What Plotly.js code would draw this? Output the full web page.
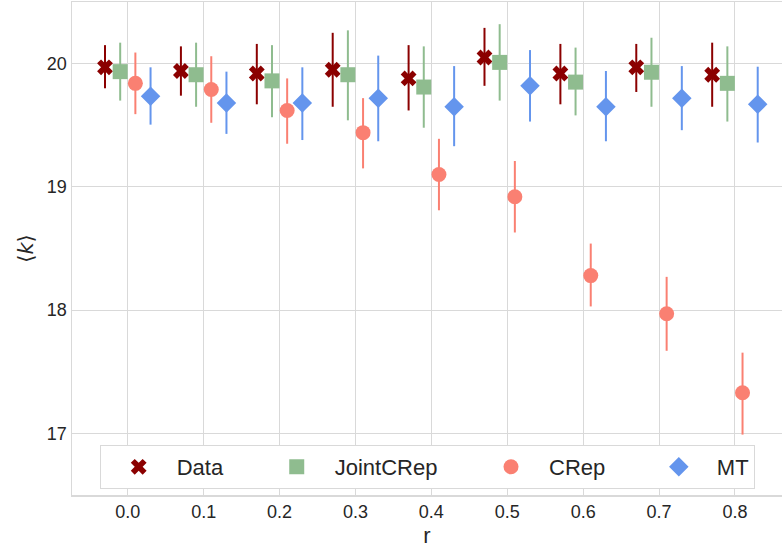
<!DOCTYPE html>
<html><head><meta charset="utf-8">
<script src="https://cdn.plot.ly/plotly-3.0.1.min.js"></script>
<style>html,body{margin:0;padding:0;background:#fff}</style>
</head><body><div id="chart" style="width:782px;height:552px"></div>
<script>
const rValues = [0.0, 0.1, 0.2, 0.3, 0.4, 0.5, 0.6, 0.7, 0.8];
const tickLabels = ["0.0", "0.1", "0.2", "0.3", "0.4", "0.5", "0.6", "0.7", "0.8"];
const seriesNames = ["Data", "JointCRep", "CRep", "MT"];

const dataMean = [19.97, 19.94, 19.92, 19.95, 19.88, 20.05, 19.92, 19.97, 19.91];
const dataHi   = [20.15, 20.14, 20.16, 20.25, 20.15, 20.29, 20.16, 20.16, 20.17];
const dataLo   = [19.80, 19.74, 19.67, 19.65, 19.62, 19.82, 19.67, 19.77, 19.65];

const jointMean = [19.935, 19.91, 19.86, 19.91, 19.81, 20.01, 19.85, 19.93, 19.84];
const jointHi   = [20.17, 20.17, 20.15, 20.27, 20.14, 20.32, 20.13, 20.21, 20.14];
const jointLo   = [19.70, 19.65, 19.565, 19.54, 19.48, 19.70, 19.58, 19.65, 19.53];

const crepMean = [19.84, 19.79, 19.62, 19.44, 19.10, 18.92, 18.28, 17.97, 17.33];
const crepHi   = [20.09, 20.06, 19.88, 19.72, 19.39, 19.21, 18.54, 18.27, 17.655];
const crepLo   = [19.59, 19.52, 19.35, 19.15, 18.81, 18.63, 18.03, 17.67, 16.99];

const mtMean = [19.735, 19.68, 19.68, 19.72, 19.65, 19.82, 19.65, 19.72, 19.67];
const mtHi   = [19.97, 19.935, 19.97, 20.065, 19.98, 20.11, 19.94, 19.98, 19.975];
const mtLo   = [19.505, 19.43, 19.38, 19.37, 19.33, 19.53, 19.37, 19.46, 19.36];

const styles = [
  {off: -0.03, color: "#8B0000", symbol: "x", size: 14, pad: 5},
  {off: -0.01, color: "#8FBC8F", symbol: "square", size: 15, pad: 5},
  {off: 0.01, color: "#FA8072", symbol: "circle", size: 15, pad: 5},
  {off: 0.03, color: "#6495ED", symbol: "diamond", size: 15, pad: 0}
];
const means = [dataMean, jointMean, crepMean, mtMean];
const his = [dataHi, jointHi, crepHi, mtHi];
const los = [dataLo, jointLo, crepLo, mtLo];

const traces = seriesNames.map((name, i) => {
  const s = styles[i];
  return {
    type: "scatter", mode: "markers", name: name + "\u00A0".repeat(s.pad),
    x: rValues.map(r => r + s.off),
    y: means[i],
    marker: {symbol: s.symbol, size: s.size, color: s.color, line: {width: 0}},
    error_y: {
      type: "data", symmetric: false,
      array: his[i].map((h, k) => h - means[i][k]),
      arrayminus: los[i].map((l, k) => means[i][k] - l),
      color: s.color, thickness: 2, width: 0
    }
  };
});

const font = "Liberation Sans, Arial, sans-serif";
const layout = {
  width: 782, height: 552,
  margin: {l: 72, r: 0, t: 2, b: 57},
  paper_bgcolor: "#ffffff", plot_bgcolor: "#ffffff",
  font: {family: font, color: "#262626", size: 18},
  xaxis: {
    range: [-0.0735, 0.862], tickvals: rValues, ticktext: tickLabels,
    showgrid: true, gridcolor: "#d9d9d9", gridwidth: 1,
    showline: true, linecolor: "#d9d9d9", linewidth: 1.5, mirror: true,
    zeroline: false, ticks: "", ticklen: 0,
    tickfont: {size: 18, color: "#262626", family: font},
    title: {text: "r", font: {size: 22, color: "#262626", family: font}, standoff: 6}
  },
  yaxis: {
    range: [16.5, 20.5], tickvals: [17, 18, 19, 20], ticktext: ["17", "18", "19", "20"],
    showgrid: true, gridcolor: "#d9d9d9", gridwidth: 1,
    showline: true, linecolor: "#d9d9d9", linewidth: 1.5, mirror: true,
    zeroline: false, ticks: "", ticklen: 0,
    tickfont: {size: 18, color: "#262626", family: font},
    title: {text: "⟨<i>k</i>⟩", font: {size: 21, color: "#262626", family: "DejaVu Sans, sans-serif"}, standoff: 7}
  },
  showlegend: true,
  legend: {
    orientation: "h", x: 0.039, y: 0.1014, xanchor: "left", yanchor: "top",
    bgcolor: "#ffffff", bordercolor: "#d9d9d9", borderwidth: 1,
    font: {size: 22, color: "#262626", family: font},
    itemwidth: 66
  }
};
Plotly.newPlot("chart", traces, layout, {displayModeBar: false, staticPlot: true});
</script></body></html>
